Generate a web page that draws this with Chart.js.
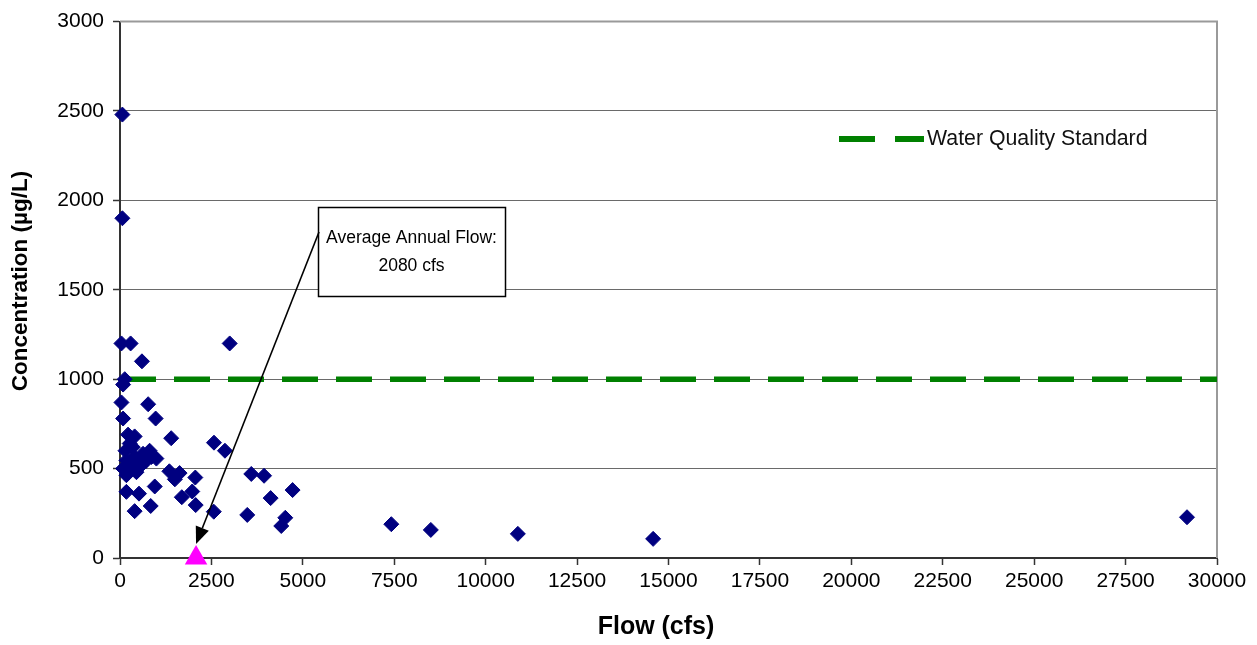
<!DOCTYPE html>
<html><head><meta charset="utf-8">
<script src="https://cdn.jsdelivr.net/npm/chart.js@4/dist/chart.umd.min.js"></script>
<style>html,body{margin:0;padding:0;background:#fff}#wrap{width:1257px;height:645px}</style>
</head><body><div id="wrap"><canvas id="c" width="1257" height="645"></canvas></div>
<script>
// ---- data ----
const flow = [65,65,40,290,3000,600,130,85,40,770,85,975,220,400,265,350,150,1400,2570,2870,810,995,860,175,400,630,85,350,585,175,300,500,700,450,1350,1630,1500,2060,3590,3940,4720,950,175,520,1690,1975,2070,400,840,2565,3480,4120,4520,4410,7420,8500,10880,14580,29180];
const conc = [2480,1900,1200,1200,1200,1100,1000,970,870,860,780,780,690,680,640,620,600,670,645,600,600,556,565,546,565,583,500,500,520,463,530,550,540,480,485,475,440,450,470,460,380,400,370,360,340,372,296,262,291,259,241,335,225,179,189,157,135,107,228];
const avgFlow = [2080];
const avgConc = [0];
const stdFlow = [0, 30000];
const stdConc = [1000, 1000];
const xTicks = [0,2500,5000,7500,10000,12500,15000,17500,20000,22500,25000,27500,30000];
const yTicks = [0,500,1000,1500,2000,2500,3000];
const stdLabel = 'Water Quality Standard';
const annLines = ['Average Annual Flow:', '2080 cfs'];
const xTitle = 'Flow (cfs)';
const yTitle = 'Concentration (µg/L)';

const FONT = "'Liberation Sans', Arial, sans-serif";
Chart.defaults.font.family = FONT;
Chart.defaults.color = '#000';

const pts = flow.map((f, i) => ({x: f, y: conc[i]}));
const avgPts = avgFlow.map((f, i) => ({x: f, y: avgConc[i]}));
const stdPts = stdFlow.map((f, i) => ({x: f, y: stdConc[i]}));

const deco = {
  id: 'deco',
  beforeDatasetsDraw(chart) {
    const {ctx, chartArea: a} = chart;
    ctx.save();
    ctx.strokeStyle = '#9a9a9a';
    ctx.lineWidth = 2;
    ctx.beginPath();
    ctx.moveTo(a.left, a.top);
    ctx.lineTo(a.right, a.top);
    ctx.lineTo(a.right, a.bottom);
    ctx.stroke();
    ctx.restore();
  },
  afterDraw(chart) {
    const {ctx} = chart;
    const xs = chart.scales.x, ys = chart.scales.y;
    ctx.save();
    // axis titles
    ctx.fillStyle = '#000';
    ctx.textAlign = 'center';
    ctx.textBaseline = 'middle';
    ctx.font = 'bold 25px ' + FONT;
    ctx.fillText(xTitle, 656, 627);
    ctx.save();
    ctx.translate(21, 281);
    ctx.rotate(-Math.PI / 2);
    ctx.font = 'bold 22.5px ' + FONT;
    ctx.fillText(yTitle, 0, 0);
    ctx.restore();
    // legend
    ctx.strokeStyle = '#008000';
    ctx.lineWidth = 6;
    ctx.beginPath();
    ctx.moveTo(839, 139); ctx.lineTo(875, 139);
    ctx.moveTo(895, 139); ctx.lineTo(924, 139);
    ctx.stroke();
    ctx.fillStyle = '#111';
    ctx.font = '21.3px ' + FONT;
    ctx.textAlign = 'left';
    ctx.fillText(stdLabel, 927, 139);
    // annotation box
    ctx.strokeStyle = '#000';
    ctx.lineWidth = 1.5;
    ctx.fillStyle = '#fff';
    ctx.fillRect(318, 207, 187, 89);
    ctx.strokeRect(318.5, 207.5, 187, 89);
    ctx.fillStyle = '#000';
    ctx.font = '17.5px ' + FONT;
    ctx.textAlign = 'center';
    ctx.fillText(annLines[0], 411.5, 238);
    ctx.fillText(annLines[1], 411.5, 266);
    // arrow
    const sx = 319, sy = 232;
    const tx = xs.getPixelForValue(avgFlow[0]);
    const ty = ys.getPixelForValue(avgConc[0]) - 14;
    const ang = Math.atan2(ty - sy, tx - sx);
    const hl = 17, hw = 7;
    const bx = tx - hl * Math.cos(ang), by = ty - hl * Math.sin(ang);
    ctx.lineWidth = 1.6;
    ctx.beginPath();
    ctx.moveTo(sx, sy); ctx.lineTo(bx, by);
    ctx.stroke();
    ctx.beginPath();
    ctx.moveTo(tx, ty);
    ctx.lineTo(bx + hw * Math.sin(ang), by - hw * Math.cos(ang));
    ctx.lineTo(bx - hw * Math.sin(ang), by + hw * Math.cos(ang));
    ctx.closePath();
    ctx.fill();
    ctx.restore();
  }
};

new Chart(document.getElementById('c'), {
  type: 'scatter',
  data: {
    datasets: [
      {label: stdLabel, type: 'line', data: stdPts, borderColor: '#008000', borderWidth: 5.5,
       borderDash: [36, 18], pointRadius: 0, fill: false, order: 3},
      {label: 'Concentration', data: pts, pointStyle: 'rectRot', pointRadius: 7.5,
       backgroundColor: '#000080', borderColor: '#000080', borderWidth: 1, clip: false, order: 2},
      {label: 'Average Annual Flow', data: avgPts, pointStyle: 'triangle', pointRadius: 13,
       backgroundColor: '#ff00ff', borderColor: '#ff00ff', borderWidth: 0, clip: false, order: 1}
    ]
  },
  options: {
    responsive: false,
    devicePixelRatio: 1,
    animation: false,
    layout: {padding: {top: 17, right: 40, left: 0, bottom: 0}},
    plugins: {legend: {display: false}, tooltip: {enabled: false}},
    scales: {
      x: {
        type: 'linear', min: 0, max: 30000,
        afterBuildTicks: s => { s.ticks = xTicks.map(v => ({value: v})); },
        afterFit: s => { s.height = 87; },
        ticks: {font: {size: 21}, color: '#000', padding: 4, maxRotation: 0, autoSkip: false,
                callback: v => String(v)},
        grid: {drawOnChartArea: false, drawTicks: true, tickLength: 7, tickColor: '#333', tickWidth: 1.5},
        border: {color: '#333', width: 2},
        title: {display: false, text: xTitle}
      },
      y: {
        type: 'linear', min: 0, max: 3000,
        afterBuildTicks: s => { s.ticks = yTicks.map(v => ({value: v})); },
        afterFit: s => { s.width = 120; },
        ticks: {font: {size: 21}, color: '#000', padding: 9, callback: v => String(v)},
        grid: {color: '#6a6a6a', lineWidth: 1, tickLength: 7, tickColor: '#333', tickWidth: 1.5},
        border: {color: '#333', width: 2},
        title: {display: false, text: yTitle}
      }
    }
  },
  plugins: [deco]
});
</script></body></html>
